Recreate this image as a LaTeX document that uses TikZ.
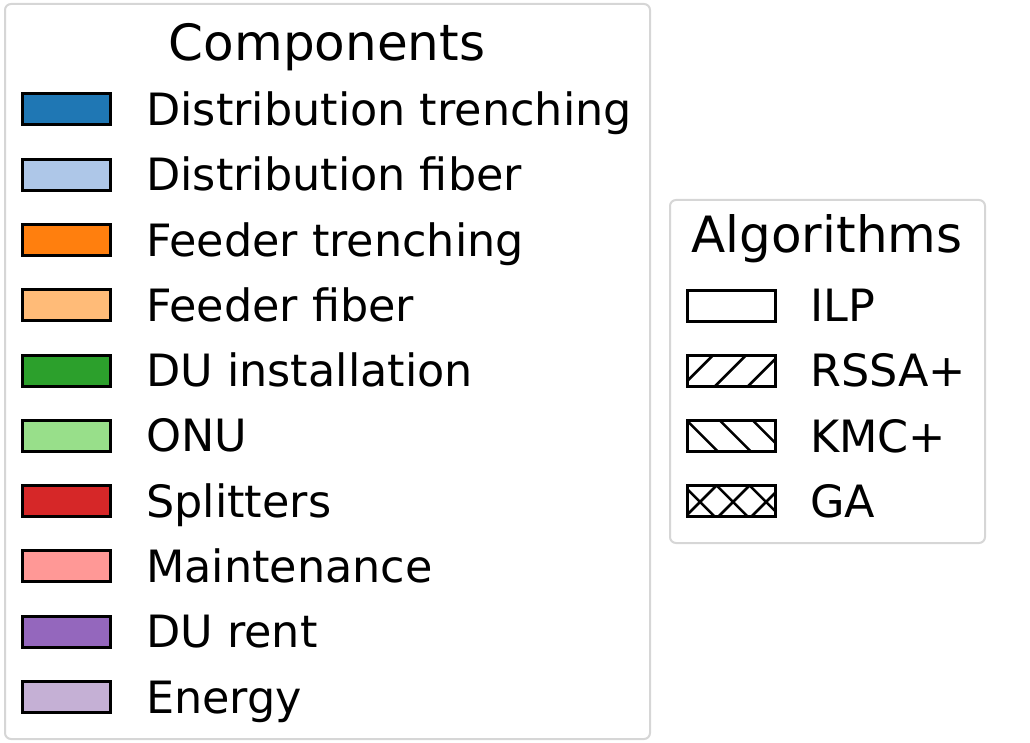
\documentclass[tikz,border=0pt]{standalone}
\usepackage{fontspec}
\setmainfont{DejaVu Sans}
\definecolor{c1}{HTML}{1F77B4}
\definecolor{c2}{HTML}{AEC7E8}
\definecolor{c3}{HTML}{FF7F0E}
\definecolor{c4}{HTML}{FFBB78}
\definecolor{c5}{HTML}{2CA02C}
\definecolor{c6}{HTML}{98DF8A}
\definecolor{c7}{HTML}{D62728}
\definecolor{c8}{HTML}{FF9896}
\definecolor{c9}{HTML}{9467BD}
\definecolor{c10}{HTML}{C5B0D5}
\definecolor{framegray}{HTML}{D6D6D6}
\tikzset{
  legframe/.style={draw=framegray, line width=2pt, rounded corners=6pt, fill=white},
  patch/.style={draw=black, line width=3pt, minimum width=88pt, minimum height=31pt, inner sep=0pt, outer sep=0pt},
  lbl/.style={anchor=base west, inner sep=0pt, font=\fontsize{44.5}{48}\selectfont},
  ttl/.style={anchor=base, inner sep=0pt, font=\fontsize{50}{54}\selectfont},
  hatchline/.style={line width=2.6pt, black},
}
\newcommand{\hatchfwd}[2]{% node, list of x+y offsets
  \begin{scope}
    \clip (#1.north west) rectangle (#1.south east);
    \foreach \c in {#2} {\draw[hatchline] ([shift={(\c+12,-12)}]#1.north west) -- ([shift={(\c-44,44)}]#1.north west);}
  \end{scope}}
\newcommand{\hatchback}[2]{% node, list of x-y offsets
  \begin{scope}
    \clip (#1.north west) rectangle (#1.south east);
    \foreach \c in {#2} {\draw[hatchline] ([shift={(\c-12,-12)}]#1.north west) -- ([shift={(\c+44,44)}]#1.north west);}
  \end{scope}}
\begin{document}
\begin{tikzpicture}[x=1pt,y=-1pt]
\useasboundingbox (0,0) rectangle (1030,743);
% frames
\draw[legframe] (5,4) rectangle (650,739);
\draw[legframe] (670,200) rectangle (985,543);
% titles
\node[ttl] (tcomp) at (327,61) {Components};
\node[ttl] (talg) at (827,253) {Algorithms};
% component rows
\foreach \i/\col/\txt in {0/c1/Distribution trenching,1/c2/Distribution fiber,2/c3/Feeder trenching,3/c4/Feeder fiber,4/c5/DU installation,5/c6/ONU,6/c7/Splitters,7/c8/Maintenance,8/c9/DU rent,9/c10/Energy}{
  \pgfmathsetmacro{\yy}{109.5+65.28*\i}
  \node[patch, fill=\col] (cp\i) at (66.5,\yy) {};
  \node[lbl] (cl\i) at (146,\yy+16) {\txt};
}
% algorithm rows
\node[patch, fill=white] (ap0) at (731,305.5) {};
\node[lbl] (al0) at (810,321.5) {ILP};
\node[patch, fill=white] (ap1) at (731,370.8) {};
\node[lbl] (al1) at (810,386.8) {RSSA+};
\node[patch, fill=white] (ap2) at (731,436.1) {};
\node[lbl] (al2) at (810,452.1) {KMC+};
\node[patch, fill=white] (ap3) at (731,501.4) {};
\node[lbl] (al3) at (810,517.4) {GA};
\hatchfwd{ap1}{-7,26,59,92,125}
\hatchback{ap2}{-33,0,33,66,99}
\hatchback{ap3}{-36,-3,30,63,96}
\hatchfwd{ap3}{-4,29,62,95,128}
% redraw borders over hatch
\foreach \n in {ap1,ap2,ap3}{\draw[line width=3pt] (\n.north west) rectangle (\n.south east);}
\end{tikzpicture}
\end{document}
